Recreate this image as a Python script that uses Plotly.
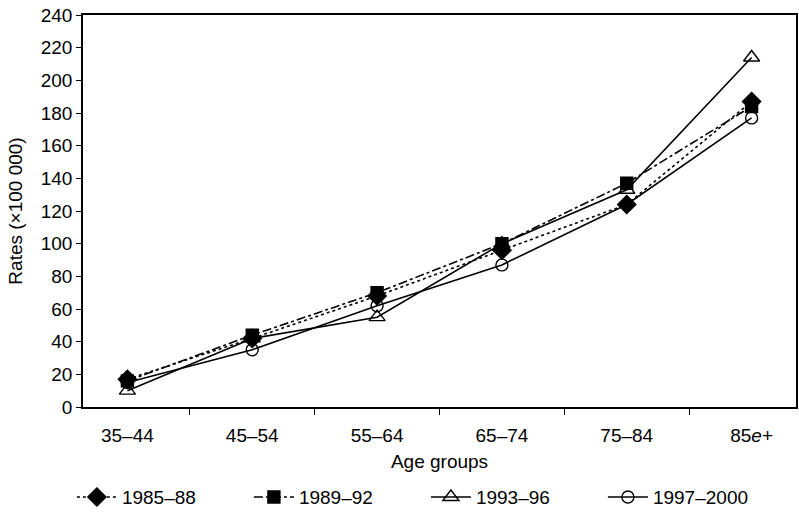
import plotly.graph_objects as go

categories = ["35\u201344", "45\u201354", "55\u201364", "65\u201374", "75\u201384", "85<i>e</i>+"]
s1985 = [17, 42, 68, 96, 124, 187]
s1989 = [16, 44, 70, 100, 137, 184]
s1993 = [10, 42, 55, 100, 133, 214]
s1997 = [15, 35, 62, 87, 124, 177]
series_names = ["1985\u201388", "1989\u201392", "1993\u201396", "1997\u20132000"]

fig = go.Figure()
styles = [
    (s1985, "dot", "diamond", 14),
    (s1989, "dashdot", "square", 12),
    (s1993, "solid", "triangle-up-open", 14),
    (s1997, "solid", "circle-open", 12),
]
for name, (vals, dash, sym, size) in zip(series_names, styles):
    fig.add_trace(go.Scatter(
        x=categories, y=vals, name=name, mode="lines+markers",
        line=dict(color="black", width=1.6, dash=dash),
        marker=dict(symbol=sym, size=size, color="black",
                    line=dict(color="black", width=1.4)),
    ))

fig.update_layout(
    width=799, height=520,
    margin=dict(l=83, r=3, t=15, b=113, autoexpand=False),
    paper_bgcolor="white", plot_bgcolor="white",
    font=dict(family="Liberation Sans, Arial, sans-serif", size=19, color="black"),
    showlegend=True,
    legend=dict(orientation="h", xref="container", yref="container",
                x=0.09, xanchor="left", y=0.044, yanchor="middle",
                font=dict(size=19), itemwidth=40, traceorder="normal",
                entrywidth=122, entrywidthmode="pixels"),
)
fig.update_xaxes(
    type="category", tickson="boundaries", ticks="outside", ticklen=6,
    tickcolor="black", showline=True, linecolor="black", linewidth=1.5, mirror=True,
    showgrid=False, automargin=False, ticklabelstandoff=10,
    title=dict(text="Age groups", standoff=10, font=dict(size=19)),
    tickfont=dict(size=19),
)
fig.update_yaxes(
    range=[0, 240], dtick=20, ticks="outside", ticklen=5, tickcolor="black",
    showline=True, linecolor="black", linewidth=1.5, mirror=True, showgrid=False,
    zeroline=False, automargin=False,
    title=dict(text="Rates (\u00d7100 000)", standoff=13, font=dict(size=19)),
    tickfont=dict(size=19),
)
fig.write_html("out.html", config={"displayModeBar": False},
               post_script="document.body.style.margin='0';document.body.style.overflow='hidden';")
